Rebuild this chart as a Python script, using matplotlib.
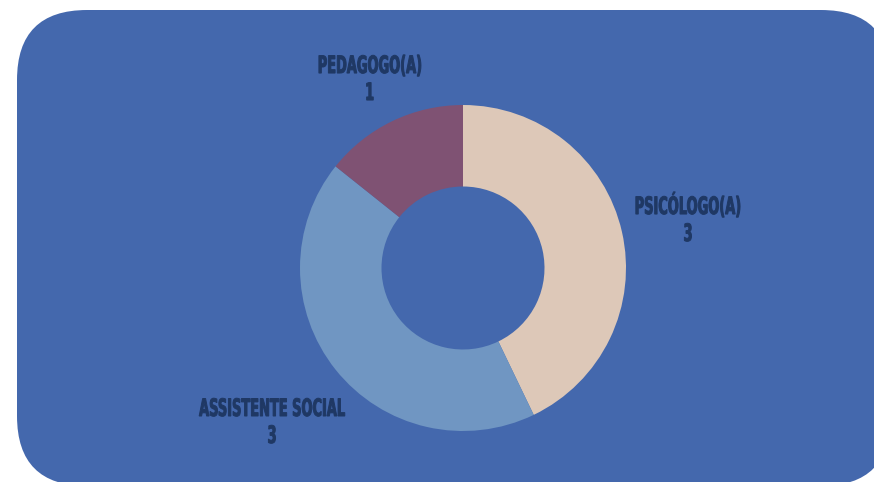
import matplotlib
matplotlib.use("Agg")
import matplotlib.pyplot as plt
from matplotlib.patches import FancyBboxPatch, PathPatch
from matplotlib.textpath import TextPath
from matplotlib.font_manager import FontProperties
from matplotlib.transforms import Affine2D

# data
categories = ["PSICÓLOGO(A)", "ASSISTENTE SOCIAL", "PEDAGOGO(A)"]
counts = [3, 3, 1]
slice_colors = ["#DDC8B8", "#7096C2", "#7F5273"]

# label anchors in pie units (radius = 1): centre x, first baseline y
label_pos = [(1.38, 0.331), (-1.172, -0.908), (-0.571, 1.196)]

W, H = 874, 482
fig = plt.figure(figsize=(W / 100, H / 100), dpi=100)
fig.patch.set_facecolor("white")

# rounded blue panel behind everything
bg = fig.add_axes([0, 0, 1, 1])
bg.set_xlim(0, W)
bg.set_ylim(H, 0)
bg.axis("off")
panel = FancyBboxPatch((17 + 70, 10 + 70), (891 - 17) - 140, (486 - 10) - 140,
                       boxstyle="round,pad=70", facecolor="#4468AD",
                       edgecolor="none")
bg.add_patch(panel)

# donut
cx, cy, r = 463, 268, 163
ax = fig.add_axes([(cx - r) / W, (H - cy - r) / H, 2 * r / W, 2 * r / H])
ax.pie(counts, colors=slice_colors, startangle=90, counterclock=False,
       radius=1, wedgeprops=dict(width=0.5, edgecolor="none"))
ax.set_xlim(-1, 1)
ax.set_ylim(-1, 1)
ax.axis("off")

# tall condensed lettering: squeeze bold glyph outlines sideways
px = 1.0 / r                      # one pixel in pie units
font = FontProperties(family="DejaVu Sans", weight="bold")
em = 17.5 / 0.729 * px             # cap height about 18 px
squeeze = 0.54
line_gap = 27 * px


def draw_line(s, x, y):
    tp = TextPath((0, 0), s, size=1, prop=font)
    ext = tp.get_extents()
    mid = (ext.x0 + ext.x1) / 2
    tr = Affine2D().translate(-mid, 0).scale(em * squeeze, em).translate(x, y)
    ax.add_patch(PathPatch(tr.transform_path(tp), facecolor="#1F3864",
                           edgecolor="#1F3864", linewidth=0.7,
                           clip_on=False))


for name, n, (x, y) in zip(categories, counts, label_pos):
    draw_line(name, x, y)
    draw_line(str(n), x, y - line_gap)

fig.savefig("out.png", dpi=100)
